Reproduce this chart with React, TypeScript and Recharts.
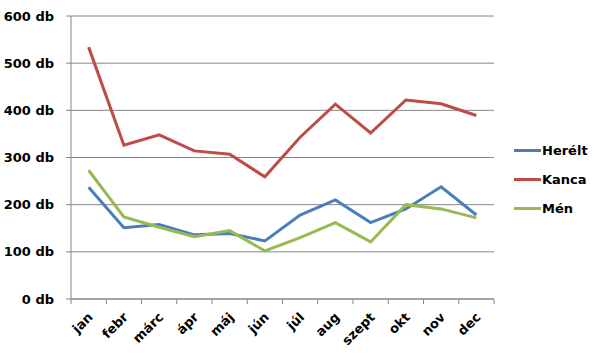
import React from "react";
import { LineChart, Line, XAxis, YAxis, CartesianGrid, Legend } from "recharts";

const months = ["jan", "febr", "márc", "ápr", "máj", "jún", "júl", "aug", "szept", "okt", "nov", "dec"];
const herelt = [237, 151, 158, 136, 139, 123, 178, 210, 162, 191, 238, 178];
const kanca = [534, 326, 348, 314, 307, 259, 343, 413, 352, 422, 414, 389];
const men = [273, 174, 152, 132, 145, 102, 130, 162, 121, 200, 191, 172];
const yTicks = [0, 100, 200, 300, 400, 500, 600];

const seriesNames = ["Herélt", "Kanca", "Mén"];
const colors = ["#4A7EBB", "#BE4B48", "#98B954"];

const data = months.map((m, i) => ({ month: m, Herélt: herelt[i], Kanca: kanca[i], Mén: men[i] }));

const W = 600;
const H = 361;
const M = { top: 16, right: 106, bottom: 7, left: 0 };
const YW = 71;
const FONT = "'DejaVu Sans', sans-serif";
const GRID = "#868686";

const plotW = W - M.right - M.left - YW;
const band = plotW / months.length;

const XTick = (props: any) => {
  const { x, y, payload, index } = props;
  const ax = x + 5;
  const ay = y + 19;
  return (
    <g>
      <line x1={x - band / 2} x2={x - band / 2} y1={y} y2={y + 5} stroke={GRID} />
      {index === months.length - 1 && (
        <line x1={x + band / 2} x2={x + band / 2} y1={y} y2={y + 5} stroke={GRID} />
      )}
      <text
        x={ax}
        y={ay}
        textAnchor="end"
        transform={`rotate(-45, ${ax}, ${ay})`}
        fontFamily={FONT}
        fontWeight="bold"
        fontSize={13}
        fill="#000"
      >
        {payload.value}
      </text>
    </g>
  );
};

const LegendContent = () => (
  <div style={{ fontFamily: FONT, fontWeight: "bold", fontSize: 13, color: "#000" }}>
    {seriesNames.map((n, i) => (
      <div key={n} style={{ display: "flex", alignItems: "center", height: 29 }}>
        <div style={{ width: 27, height: 3, background: colors[i], marginRight: 1 }} />
        <span>{n}</span>
      </div>
    ))}
  </div>
);

export default function App() {
  return (
    <div style={{ position: "absolute", left: 0, top: 0, background: "#fff" }}>
      <LineChart width={W} height={H} data={data} margin={M}>
        <CartesianGrid vertical={false} stroke={GRID} />
        <XAxis
          dataKey="month"
          height={55}
          interval={0}
          padding={{ left: band / 2, right: band / 2 }}
          axisLine={{ stroke: GRID }}
          tickLine={false}
          tickSize={0}
          tickMargin={0}
          tick={<XTick />}
        />
        <YAxis
          width={YW}
          domain={[0, 600]}
          ticks={yTicks}
          tickFormatter={(v: number) => `${v} db`}
          axisLine={{ stroke: GRID }}
          tickLine={{ stroke: GRID }}
          tickSize={5}
          tickMargin={12}
          tick={{ fontFamily: FONT, fontWeight: "bold", fontSize: 13, fill: "#000" }}
        />
        <Legend
          layout="vertical"
          align="center"
          verticalAlign="middle"
          content={<LegendContent />}
          wrapperStyle={{ position: "absolute", left: 514, top: 136, width: 86 }}
        />
        {seriesNames.map((n, i) => (
          <Line
            key={n}
            dataKey={n}
            stroke={colors[i]}
            strokeWidth={3}
            dot={false}
            activeDot={false}
            isAnimationActive={false}
          />
        ))}
      </LineChart>
    </div>
  );
}
